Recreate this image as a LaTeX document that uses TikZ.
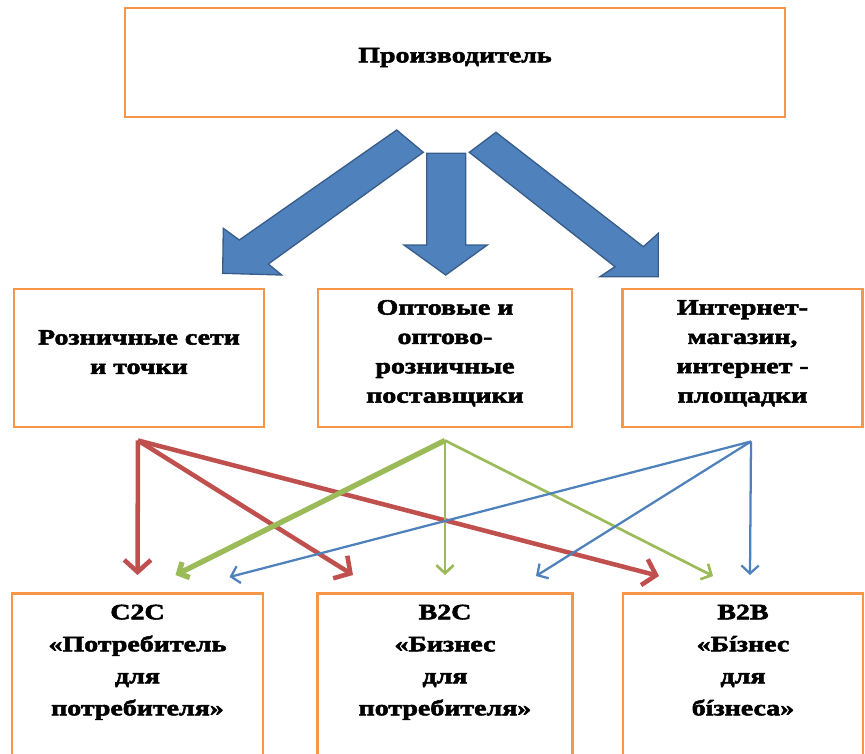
\documentclass[tikz,border=0pt]{standalone}
\usepackage{fontspec}
\setmainfont[FakeStretch=1.27, BoldFeatures={FakeBold=2.5}]{Liberation Serif}
\usetikzlibrary{arrows.meta, calc, positioning}

\definecolor{boxorange}{HTML}{F79646}
\definecolor{arrowblue}{HTML}{4F81BD}
\definecolor{arrowedge}{HTML}{385D8A}
\definecolor{linered}{HTML}{C0504D}
\definecolor{linegreen}{HTML}{9BBB59}
\definecolor{lineblue}{HTML}{4F81BD}

\begin{document}
\begin{tikzpicture}[x=0.75pt, y=-0.75pt,
		box/.style={draw=boxorange, line width=2.2pt, align=center, font=\fontsize{16.5pt}{22pt}\selectfont\bfseries},
		lowbox/.style={draw=boxorange, line width=2.2pt, anchor=north, minimum height=141pt},
		lowtext/.style={align=center, font=\fontsize{16.5pt}{24pt}\selectfont\bfseries, anchor=north, yshift=-6pt},
		bigarrow/.style={fill=arrowblue, draw=arrowedge, line width=1pt},
		redarrow/.style={linered, line width=3.4pt, -{Straight Barb[length=9pt, width=20pt]}},
		greenarrow/.style={linegreen, line width=2pt, -{Straight Barb[length=6pt, width=13pt]}},
		bluearrow/.style={lineblue, line width=1.7pt, -{Straight Barb[length=6pt, width=13pt]}}]
		\useasboundingbox (0,0) rectangle (865,754);
		\clip (0,0) rectangle (865,754);

		% Boxes
		\node[box, minimum width=495pt, minimum height=81.75pt, text depth=11pt] (producer) at (455,62.5) {Производитель};

		\node[box, minimum width=187.5pt, minimum height=103.5pt, text depth=9pt] (retail) at (139,358) {Розничные сети\\и точки};
		\node[box, minimum width=190.5pt, minimum height=103.5pt, text depth=10pt] (wholesale) at (445,358) {Оптовые и\\оптово-\\розничные\\поставщики};
		\node[box, minimum width=180pt, minimum height=103.5pt, text depth=10pt] (online) at (742.5,358) {Интернет-\\магазин,\\интернет -\\площадки};

		\node[lowbox, minimum width=188.25pt, label={[lowtext]north:{C2C\\«Потребитель\\для\\потребителя»}}] (c2c) at (137.5,592) {};
		\node[lowbox, minimum width=191pt, label={[lowtext]north:{B2C\\«Бизнес\\для\\потребителя»}}] (b2c) at (445,592) {};
		\node[lowbox, minimum width=180pt, label={[lowtext]north:{B2B\\«Бíзнес\\для\\бíзнеса»}}] (b2b) at (743,592) {};

		% Big arrows
		\draw[bigarrow] (396.7,130) -- (423.3,152.3) -- (268.3,264) -- (281.7,275) -- (222.7,273.3) -- (223.3,228.3) -- (239.3,240) -- cycle;
		\draw[bigarrow] (426.7,153.3) -- (465.7,153.3) -- (465.7,245) -- (487.3,245) -- (445.7,275) -- (404,245) -- (426.7,245) -- cycle;
		\draw[bigarrow] (496,132.3) -- (643.3,246.7) -- (658.3,233.3) -- (658.3,276.7) -- (600,276.7) -- (615,266.7) -- (469.3,152.3) -- cycle;

		% Links
		\coordinate (rs) at ($(retail.south)+(-1,12)$);
		\coordinate (gs) at ($(wholesale.south)+(0,12)$);
		\coordinate (bs) at ($(online.south)+(8.5,13)$);

		\draw[redarrow] (rs) -- ($(c2c.north)+(0,-17)$);
		\draw[redarrow] (rs) -- ($(b2c.north)+(-92,-17)$);
		\draw[redarrow] (rs) -- ($(b2b.north)+(-84,-16)$);

		\draw[greenarrow, line width=4pt] (gs) -- ($(c2c.north)+(38,-17)$);
		\draw[greenarrow] (gs) -- ($(b2c.north)+(0,-17)$);
		\draw[greenarrow] (gs) -- ($(b2b.north)+(-30,-16)$);

		\draw[bluearrow] (bs) -- ($(c2c.north)+(92,-15)$);
		\draw[bluearrow] (bs) -- ($(b2c.north)+(91,-16)$);
		\draw[bluearrow] (bs) -- ($(b2b.north)+(7,-17)$);
	\end{tikzpicture}
\end{document}
